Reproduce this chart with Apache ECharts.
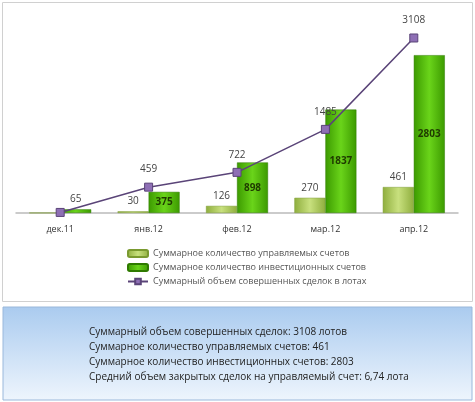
<!DOCTYPE html>
<html>
<head>
<meta charset="utf-8">
<script src="https://cdn.jsdelivr.net/npm/echarts@6/dist/echarts.min.js"></script>
<style>
  html, body { margin: 0; padding: 0; background: #fff; }
  #chart { width: 475px; height: 402px; }
</style>
</head>
<body>
<div id="chart"></div>
<script>
  // Données
  const months = ['дек.11', 'янв.12', 'фев.12', 'мар.12', 'апр.12'];
  const managed = [3, 30, 126, 270, 461];
  const invest = [65, 375, 898, 1837, 2803];
  const volume = [10, 459, 722, 1485, 3108];
  const summaryLines = [
    'Суммарный объем совершенных сделок: 3108 лотов',
    'Суммарное количество управляемых счетов: 461',
    'Суммарное количество инвестиционных счетов: 2803',
    'Средний объем закрытых сделок на управляемый счет: 6,74 лота'
  ];
  const names = [
    'Суммарное количество управляемых счетов',
    'Суммарное количество инвестиционных счетов',
    'Суммарный объем совершенных сделок в лотах'
  ];

  const chart = echarts.init(document.getElementById('chart'));
  const font = 'Open Sans';

  const grad = (a, b) => new echarts.graphic.LinearGradient(0, 0, 1, 0, [
    { offset: 0, color: a }, { offset: 0.5, color: b }, { offset: 1, color: a }
  ]);

  const option = {
    animation: false,
    textStyle: { fontFamily: font },
    grid: { left: 16, right: 17, top: 30, bottom: 189 },
    xAxis: {
      type: 'category',
      data: months,
      axisLine: { lineStyle: { color: '#bbb', width: 1.5 } },
      axisTick: { show: false },
      axisLabel: { color: '#333', fontSize: 9, margin: 12 }
    },
    yAxis: { type: 'value', min: 0, max: 3250, show: false, splitLine: { show: false } },
    legend: {
      orient: 'vertical',
      left: 122, top: 244,
      itemGap: 5,
      itemWidth: 20, itemHeight: 7,
      textStyle: { fontSize: 9, color: '#555' },
      data: names
    },
    series: [
      {
        name: names[0], type: 'bar', data: managed,
        barWidth: 31, barGap: '0%',
        itemStyle: { color: grad('#8fae3e', '#c8e07e'), borderColor: '#7a9a30', borderWidth: 0.5 },
        label: {
          show: true, position: 'top', color: '#444', fontSize: 10,
          formatter: p => p.dataIndex === 0 ? '' : p.value
        }
      },
      {
        name: names[1], type: 'bar', data: invest,
        barWidth: 31,
        itemStyle: { color: grad('#3c9a00', '#6ad41a'), borderColor: '#2f7a00', borderWidth: 0.5 },
        label: {
          show: true, position: 'inside', color: '#1f3a00', fontSize: 10, fontWeight: 'bold',
          formatter: p => p.dataIndex === 0 ? '' : p.value
        },
        markPoint: {
          symbol: 'rect', symbolSize: 1,
          itemStyle: { color: 'transparent' },
          label: { show: true, color: '#444', fontSize: 10, offset: [0, -10], formatter: '65' },
          data: [{ coord: [0, 65] }]
        }
      },
      {
        name: names[2], type: 'line', data: volume,
        symbol: 'rect', symbolSize: 8,
        lineStyle: { color: '#5a4478', width: 1.5 },
        itemStyle: { color: '#8e6fb5', borderColor: '#5a4478', borderWidth: 1 },
        label: {
          show: true, position: 'top', distance: 8, color: '#444', fontSize: 10,
          formatter: p => p.dataIndex === 0 ? '' : p.value
        },
        z: 5
      }
    ],
    graphic: [
      {
        type: 'rect', shape: { x: 2.5, y: 2.5, width: 470, height: 299 },
        style: { fill: 'none', stroke: '#d0d0d0', lineWidth: 1 }, silent: true
      },
      {
        type: 'rect', shape: { x: 3, y: 307, width: 469, height: 93 },
        style: {
          fill: new echarts.graphic.LinearGradient(0, 0, 0, 1, [
            { offset: 0, color: '#aacbef' }, { offset: 1, color: '#eef5fd' }
          ]),
          stroke: '#9ab8db', lineWidth: 1
        }, z: -1
      },
      {
        type: 'text', left: 89, top: 325,
        style: {
          text: summaryLines.join('\n'), fill: '#222', fontSize: 10,
          fontFamily: font, lineHeight: 15
        }
      }
    ]
  };

  chart.setOption(option);
</script>
</body>
</html>
